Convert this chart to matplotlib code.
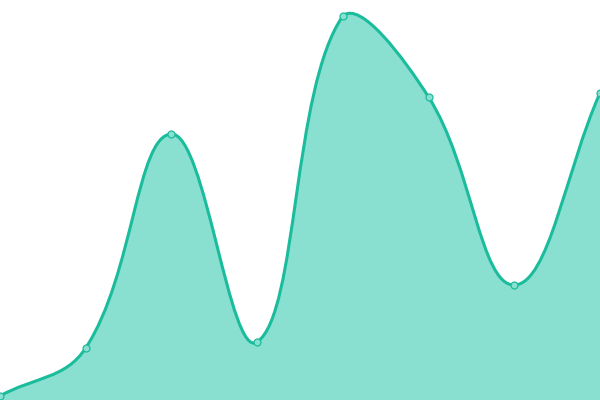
import matplotlib
matplotlib.use("Agg")
import matplotlib.pyplot as plt
import numpy as np
from matplotlib.path import Path
from matplotlib.patches import PathPatch

labels = ["A", "B", "C", "D", "E", "F", "G", "H"]
values = [4, 52, 266, 58, 384, 303, 115, 307]

LINE = "#1abc9c"
FILL = "#8ae0d0"

fig = plt.figure(figsize=(6, 4), dpi=100)
ax = fig.add_axes([0, 0, 1, 1])
ax.set_xlim(0, len(values) - 1)
ax.set_ylim(0, 400)
ax.axis("off")

# Chart.js-like spline (tension 0.4) computed in display space, control points capped to area
xs = np.arange(len(values), dtype=float)
disp = ax.transData.transform(np.column_stack([xs, values]))
bb = ax.bbox
t = 0.4
n = len(disp)


def cap(p):
    return np.array([min(max(p[0], bb.x0), bb.x1), min(max(p[1], bb.y0), bb.y1)])


cps = []
for i in range(n):
    prev = disp[i - 1] if i > 0 else disp[i]
    cur = disp[i]
    nxt = disp[i + 1] if i < n - 1 else disp[i]
    d01 = np.hypot(*(cur - prev))
    d12 = np.hypot(*(nxt - cur))
    tot = d01 + d12
    s01 = d01 / tot if tot else 0
    s12 = d12 / tot if tot else 0
    cps.append((cap(cur - t * s01 * (nxt - prev)), cap(cur + t * s12 * (nxt - prev))))

inv = ax.transData.inverted()
verts = [disp[0]]
codes = [Path.MOVETO]
for i in range(n - 1):
    verts += [cps[i][1], cps[i + 1][0], disp[i + 1]]
    codes += [Path.CURVE4] * 3
verts = inv.transform(np.array(verts))

line_path = Path(verts, codes)
fill_verts = np.vstack([verts, [[xs[-1], 0], [xs[0], 0], verts[0]]])
fill_codes = codes + [Path.LINETO, Path.LINETO, Path.CLOSEPOLY]
ax.add_patch(PathPatch(Path(fill_verts, fill_codes), facecolor=FILL, edgecolor="none", zorder=1))
ax.add_patch(PathPatch(line_path, facecolor="none", edgecolor=LINE, lw=2.2, zorder=2, clip_on=False))
ax.plot(xs, values, "o", ms=5, mfc=FILL, mec=LINE, mew=0.9, zorder=3, clip_on=False)

fig.savefig("out.png", dpi=100)
